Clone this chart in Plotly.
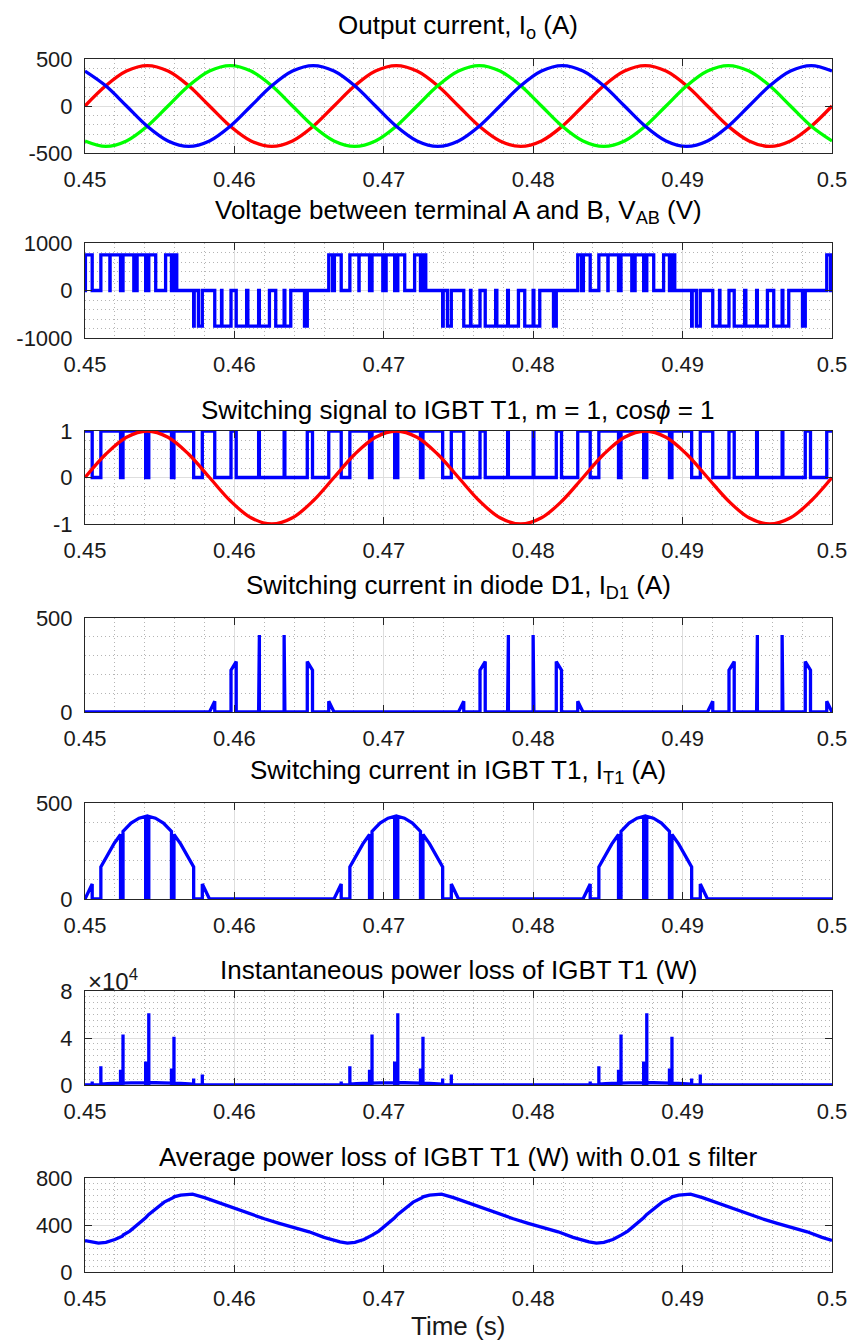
import plotly.graph_objects as go

# ------------------------------------------------------------------ data
t_sine = [0.45, 0.451389, 0.452778, 0.454167, 0.455556, 0.456944, 0.458333, 0.459722, 0.461111, 0.4625, 0.463889, 0.465278,
          0.466667, 0.468056, 0.469444, 0.470833, 0.472222, 0.473611, 0.475, 0.476389, 0.477778, 0.479167, 0.480556, 0.481944,
          0.483333, 0.484722, 0.486111, 0.4875, 0.488889, 0.490278, 0.491667, 0.493056, 0.494444, 0.495833, 0.497222, 0.498611, 0.5]
ia = [0, 215, 372, 430, 372, 215, 0, -215, -372, -430, -372, -215,
      0, 215, 372, 430, 372, 215, 0, -215, -372, -430, -372, -215,
      0, 215, 372, 430, 372, 215, 0, -215, -372, -430, -372, -215, 0]
ib = [-372, -430, -372, -215, 0, 215, 372, 430, 372, 215, 0, -215,
      -372, -430, -372, -215, 0, 215, 372, 430, 372, 215, 0, -215,
      -372, -430, -372, -215, 0, 215, 372, 430, 372, 215, 0, -215, -372]
ic = [372, 215, 0, -215, -372, -430, -372, -215, 0, 215, 372, 430,
      372, 215, 0, -215, -372, -430, -372, -215, 0, 215, 372, 430,
      372, 215, 0, -215, -372, -430, -372, -215, 0, 215, 372, 430, 372]
ref = [0, 0.5, 0.866, 1, 0.866, 0.5, 0, -0.5, -0.866, -1, -0.866, -0.5,
       0, 0.5, 0.866, 1, 0.866, 0.5, 0, -0.5, -0.866, -1, -0.866, -0.5,
       0, 0.5, 0.866, 1, 0.866, 0.5, 0, -0.5, -0.866, -1, -0.866, -0.5, 0]

gate_t = [0.45,
          0.450482, 0.451061, 0.452378, 0.452545, 0.45406, 0.45427, 0.455788, 0.455955, 0.457273, 0.457852,
          0.458685, 0.459773, 0.460122, 0.461621, 0.461672, 0.463328, 0.463379, 0.464878, 0.465228, 0.466315,
          0.467149, 0.467728, 0.469045, 0.469212, 0.470727, 0.470937, 0.472455, 0.472622, 0.47394, 0.474519,
          0.475352, 0.47644, 0.476789, 0.478288, 0.478339, 0.479995, 0.480046, 0.481545, 0.481895, 0.482982,
          0.483815, 0.484394, 0.485711, 0.485878, 0.487393, 0.487603, 0.489121, 0.489288, 0.490606, 0.491185,
          0.492018, 0.493106, 0.493455, 0.494954, 0.495005, 0.496661, 0.496712, 0.498211, 0.498561, 0.499648,
          0.5]
gate_v = [1,
          0, 1, 0, 1, 0, 1, 0, 1, 0, 1,
          0, 1, 0, 1, 0, 1, 0, 1, 0, 1,
          0, 1, 0, 1, 0, 1, 0, 1, 0, 1,
          0, 1, 0, 1, 0, 1, 0, 1, 0, 1,
          0, 1, 0, 1, 0, 1, 0, 1, 0, 1,
          0, 1, 0, 1, 0, 1, 0, 1, 0, 1,
          1]

vab_t = [0.45,
         0.450028, 0.450482, 0.451061, 0.451666, 0.451681, 0.452378, 0.452545, 0.453267, 0.453488, 0.45406,
         0.45427, 0.454733, 0.455395, 0.455788, 0.455955, 0.456142, 0.457273, 0.45731, 0.457593, 0.457852,
         0.458685, 0.459139, 0.459167, 0.459773, 0.460122, 0.460819, 0.4609, 0.461621, 0.461672, 0.462345,
         0.462767, 0.463328, 0.463379, 0.463772, 0.464692, 0.464878, 0.466315, 0.466573,
         0.466694, 0.467149, 0.467728, 0.468333, 0.468348, 0.469045, 0.469212, 0.469934, 0.470155, 0.470727,
         0.470937, 0.4714, 0.472062, 0.472455, 0.472622, 0.472809, 0.47394, 0.473977, 0.47426, 0.474519,
         0.475352, 0.475806, 0.475834, 0.47644, 0.476789, 0.477486, 0.477567, 0.478288, 0.478339, 0.479012,
         0.479434, 0.479995, 0.480046, 0.480439, 0.481359, 0.481545, 0.482982, 0.48324,
         0.483361, 0.483815, 0.484394, 0.484999, 0.485014, 0.485711, 0.485878, 0.4866, 0.486821, 0.487393,
         0.487603, 0.488066, 0.488728, 0.489121, 0.489288, 0.489475, 0.490606, 0.490643, 0.490926, 0.491185,
         0.492018, 0.492472, 0.4925, 0.493106, 0.493455, 0.494152, 0.494233, 0.494954, 0.495005, 0.495678,
         0.4961, 0.496661, 0.496712, 0.497105, 0.498025, 0.498211, 0.499648, 0.499906,
         0.5]
vab_v = [0,
         750, 0, 750, 0, 750, 0, 750, 0, 750, 0,
         750, 0, 750, 0, 750, 0, -750, 0, -750, 0,
         -750, 0, -750, 0, -750, 0, -750, 0, -750, 0,
         -750, 0, -750, 0, -750, 0, 750, 0,
         750, 0, 750, 0, 750, 0, 750, 0, 750, 0,
         750, 0, 750, 0, 750, 0, -750, 0, -750, 0,
         -750, 0, -750, 0, -750, 0, -750, 0, -750, 0,
         -750, 0, -750, 0, -750, 0, 750, 0,
         750, 0, 750, 0, 750, 0, 750, 0, 750, 0,
         750, 0, 750, 0, 750, 0, -750, 0, -750, 0,
         -750, 0, -750, 0, -750, 0, -750, 0, -750, 0,
         -750, 0, -750, 0, -750, 0, 750, 0,
         0]

id1_t = [0.45,
         0.458333, 0.458685, 0.458685, 0.459773, 0.459773, 0.460122, 0.460122, 0.461621, 0.461621, 0.461672, 0.461672,
         0.463328, 0.463328, 0.463379, 0.463379, 0.464878, 0.464878, 0.465228, 0.465228, 0.466315, 0.466315, 0.466667,
         0.475, 0.475352, 0.475352, 0.47644, 0.47644, 0.476789, 0.476789, 0.478288, 0.478288, 0.478339, 0.478339,
         0.479995, 0.479995, 0.480046, 0.480046, 0.481545, 0.481545, 0.481895, 0.481895, 0.482982, 0.482982, 0.483333,
         0.491666, 0.492018, 0.492018, 0.493106, 0.493106, 0.493455, 0.493455, 0.494954, 0.494954, 0.495005, 0.495005,
         0.496661, 0.496661, 0.496712, 0.496712, 0.498211, 0.498211, 0.498561, 0.498561, 0.499648, 0.499648, 0.5]
id1_v = [0,
         0, 57, 0, 0, 222, 268, 0, 0, 407, 409, 0,
         0, 409, 407, 0, 0, 268, 222, 0, 0, 57, 0,
         0, 57, 0, 0, 222, 268, 0, 0, 407, 409, 0,
         0, 409, 407, 0, 0, 268, 222, 0, 0, 57, 0,
         0, 57, 0, 0, 222, 268, 0, 0, 407, 409, 0,
         0, 409, 407, 0, 0, 268, 222, 0, 0, 57, 0]

it1_t = [0.45, 0.450482, 0.450482, 0.451061, 0.451061, 0.4515, 0.451933, 0.452378, 0.452378, 0.452545,
         0.452545, 0.453083, 0.453617, 0.45406, 0.45406, 0.45427, 0.45427, 0.454717, 0.45525, 0.455788,
         0.455788, 0.455955, 0.455955, 0.4564, 0.456833, 0.457273, 0.457273, 0.457852, 0.457852, 0.458333,
         0.466667, 0.467149, 0.467149, 0.467728, 0.467728, 0.468167, 0.4686, 0.469045, 0.469045, 0.469212,
         0.469212, 0.46975, 0.470284, 0.470727, 0.470727, 0.470937, 0.470937, 0.471384, 0.471917, 0.472455,
         0.472455, 0.472622, 0.472622, 0.473067, 0.4735, 0.47394, 0.47394, 0.474519, 0.474519, 0.475,
         0.483333, 0.483815, 0.483815, 0.484394, 0.484394, 0.484833, 0.485266, 0.485711, 0.485711, 0.485878,
         0.485878, 0.486416, 0.48695, 0.487393, 0.487393, 0.487603, 0.487603, 0.48805, 0.488583, 0.489121,
         0.489121, 0.489288, 0.489288, 0.489733, 0.490166, 0.490606, 0.490606, 0.491185, 0.491185, 0.491666,
         0.5]
it1_v = [0, 78, 0, 0, 167, 230, 287, 336, 0, 0, 352, 395, 421, 430, 0, 0, 430, 421, 395, 352,
         0, 0, 336, 287, 230, 167, 0, 0, 78, 0,
         0, 78, 0, 0, 167, 230, 287, 336, 0, 0, 352, 395, 421, 430, 0, 0, 430, 421, 395, 352,
         0, 0, 336, 287, 230, 167, 0, 0, 78, 0,
         0, 78, 0, 0, 167, 230, 287, 336, 0, 0, 352, 395, 421, 430, 0, 0, 430, 421, 395, 352,
         0, 0, 336, 287, 230, 167, 0, 0, 78, 0,
         0]

ploss_t = [0.45, 0.450482, 0.450482, 0.450482, 0.451061, 0.451061, 0.451061, 0.4515, 0.451933, 0.452378,
           0.452378, 0.452378, 0.452545, 0.452545, 0.452545, 0.453083, 0.453617, 0.45406, 0.45406, 0.45406,
           0.45427, 0.45427, 0.45427, 0.454717, 0.45525, 0.455788, 0.455788, 0.455788, 0.455955, 0.455955,
           0.455955, 0.4564, 0.456833, 0.457273, 0.457273, 0.457273, 0.457852, 0.457852, 0.457852, 0.458333,
           0.466667, 0.467149, 0.467149, 0.467149, 0.467728, 0.467728, 0.467728, 0.468167, 0.4686, 0.469045,
           0.469045, 0.469045, 0.469212, 0.469212, 0.469212, 0.46975, 0.470284, 0.470727, 0.470727, 0.470727,
           0.470937, 0.470937, 0.470937, 0.471384, 0.471917, 0.472455, 0.472455, 0.472455, 0.472622, 0.472622,
           0.472622, 0.473067, 0.4735, 0.47394, 0.47394, 0.47394, 0.474519, 0.474519, 0.474519, 0.475,
           0.483333, 0.483815, 0.483815, 0.483815, 0.484394, 0.484394, 0.484394, 0.484833, 0.485266, 0.485711,
           0.485711, 0.485711, 0.485878, 0.485878, 0.485878, 0.486416, 0.48695, 0.487393, 0.487393, 0.487393,
           0.487603, 0.487603, 0.487603, 0.48805, 0.488583, 0.489121, 0.489121, 0.489121, 0.489288, 0.489288,
           0.489288, 0.489733, 0.490166, 0.490606, 0.490606, 0.490606, 0.491185, 0.491185, 0.491185, 0.491666,
           0.5]
ploss_v = [0, 350, 3000, 0, 0, 16000, 750, 1050, 1300, 1550,
           13000, 0, 0, 43000, 1600, 1800, 1900, 1950, 20000, 0,
           0, 61000, 1950, 1900, 1800, 1600, 14000, 0, 0, 41000,
           1550, 1300, 1050, 750, 5500, 0, 0, 9000, 350, 0,
           0, 350, 3000, 0, 0, 16000, 750, 1050, 1300, 1550,
           13000, 0, 0, 43000, 1600, 1800, 1900, 1950, 20000, 0,
           0, 61000, 1950, 1900, 1800, 1600, 14000, 0, 0, 41000,
           1550, 1300, 1050, 750, 5500, 0, 0, 9000, 350, 0,
           0, 350, 3000, 0, 0, 16000, 750, 1050, 1300, 1550,
           13000, 0, 0, 43000, 1600, 1800, 1900, 1950, 20000, 0,
           0, 61000, 1950, 1900, 1800, 1600, 14000, 0, 0, 41000,
           1550, 1300, 1050, 750, 5500, 0, 0, 9000, 350, 0,
           0]

pavg_t = [0.45, 0.4504, 0.4509, 0.4514, 0.452, 0.4525, 0.45255, 0.453, 0.4535, 0.454, 0.45406, 0.45427, 0.4548, 0.4553,
          0.4559, 0.45596, 0.4564, 0.4568, 0.4572, 0.458, 0.459, 0.46, 0.461, 0.462, 0.463, 0.464, 0.465, 0.466,
          0.466667, 0.467067, 0.467567, 0.468067, 0.468667, 0.469167, 0.469217, 0.469667, 0.470167, 0.470667, 0.470727,
          0.470937, 0.471467, 0.471967, 0.472567, 0.472627, 0.473067, 0.473467, 0.473867, 0.474667, 0.475667, 0.476667,
          0.477667, 0.478667, 0.479667, 0.480667, 0.481667, 0.482667,
          0.483333, 0.483733, 0.484233, 0.484733, 0.485333, 0.485833, 0.485883, 0.486333, 0.486833, 0.487333, 0.487393,
          0.487603, 0.488133, 0.488633, 0.489233, 0.489293, 0.489733, 0.490133, 0.490533, 0.491333, 0.492333, 0.493333,
          0.494333, 0.495333, 0.496333, 0.497333, 0.498333, 0.499333,
          0.5]
pavg_v = [268, 256, 246, 252, 276, 305, 314, 348, 398, 455, 462, 490, 545, 595,
          632, 640, 655, 662, 662, 633, 588, 538, 494, 453, 414, 378, 342, 295,
          268, 256, 246, 252, 276, 305, 314, 348, 398, 455, 462,
          490, 545, 595, 632, 640, 655, 662, 662, 633, 588, 538,
          494, 453, 414, 378, 342, 295,
          268, 256, 246, 252, 276, 305, 314, 348, 398, 455, 462,
          490, 545, 595, 632, 640, 655, 662, 662, 633, 588, 538,
          494, 453, 414, 378, 342, 295,
          268]

x_tickvals = [0.45, 0.46, 0.47, 0.48, 0.49, 0.5]
x_ticktext = ["0.45", "0.46", "0.47", "0.48", "0.49", "0.5"]

titles = ["Output current, I<sub>o</sub> (A)",
          "Voltage between terminal A and B, V<sub>AB</sub> (V)",
          "Switching signal to IGBT T1, m = 1, cos<i>ϕ</i> = 1",
          "Switching current in diode D1, I<sub>D1</sub> (A)",
          "Switching current in IGBT T1, I<sub>T1</sub> (A)",
          "Instantaneous power loss of IGBT T1 (W)",
          "Average power loss of IGBT T1 (W) with 0.01 s filter"]
y_ranges = [[-500, 500], [-1000, 1000], [-1, 1], [0, 500], [0, 500], [0, 80000], [0, 800]]
y_tickvals = [[-500, 0, 500], [-1000, 0, 1000], [-1, 0, 1], [0, 500], [0, 500], [0, 40000, 80000], [0, 400, 800]]
y_ticktext = [["-500", "0", "500"], ["-1000", "0", "1000"], ["-1", "0", "1"], ["0", "500"], ["0", "500"],
              ["0", "4", "8"], ["0", "400", "800"]]
y_minor = [100, 200, 0.2, 100, 100, 5000, 50]

# ------------------------------------------------------------------ layout geometry (pixels)
W, H = 849, 1344
X0, X1 = 85, 832
tops = [59, 243, 431, 618, 803, 991, 1178]
bottoms = [153, 338, 524, 712, 899, 1085, 1272]
title_y = [27, 211, 410, 586, 771, 970, 1157]

FONT = "Liberation Sans, Arial, Helvetica, sans-serif"
AX = "#262626"
BLUE, RED, GREEN = "#0000ff", "#ff0000", "#00ff00"
LW = 3.3

fig = go.Figure()

def add(i, x, y, color, shape="linear"):
    fig.add_trace(go.Scatter(x=x, y=y, mode="lines", line=dict(color=color, width=LW, shape=shape),
                             xaxis="x" if i == 1 else f"x{i}", yaxis="y" if i == 1 else f"y{i}",
                             showlegend=False, hoverinfo="skip"))

add(1, t_sine, ia, RED, "spline")
add(1, t_sine, ib, GREEN, "spline")
add(1, t_sine, ic, BLUE, "spline")
add(2, vab_t, vab_v, BLUE, "hv")
add(3, gate_t, gate_v, BLUE, "hv")
add(3, t_sine, ref, RED, "spline")
add(4, id1_t, id1_v, BLUE)
add(5, it1_t, it1_v, BLUE)
add(6, ploss_t, ploss_v, BLUE)
add(7, pavg_t, pavg_v, BLUE)

layout = dict(width=W, height=H, margin=dict(l=0, r=0, t=0, b=0, autoexpand=False),
              paper_bgcolor="white", plot_bgcolor="white",
              font=dict(family=FONT, color="#000000"), showlegend=False)

annotations = []
for k in range(7):
    i = k + 1
    xs = "xaxis" if i == 1 else f"xaxis{i}"
    ys = "yaxis" if i == 1 else f"yaxis{i}"
    layout[xs] = dict(domain=[X0 / W, X1 / W], anchor="y" if i == 1 else f"y{i}", automargin=False,
                      range=[0.45, 0.5], tickvals=x_tickvals, ticktext=x_ticktext,
                      showline=True, linecolor=AX, linewidth=1, mirror="ticks",
                      ticks="inside", ticklen=7, tickcolor=AX, tickwidth=1,
                      showgrid=True, gridcolor="#dedede", gridwidth=1, zeroline=False,
                      tickfont=dict(size=22, color="#1a1a1a", family=FONT),
                      ticklabelstandoff=7,
                      minor=dict(dtick=0.002, tick0=0.45, showgrid=True, gridcolor="#b4b4b4",
                                 griddash="1px,3px", gridwidth=1, ticks=""))
    layout[ys] = dict(domain=[1 - bottoms[k] / H, 1 - tops[k] / H], anchor="x" if i == 1 else f"x{i}",
                      automargin=False,
                      range=y_ranges[k], tickvals=y_tickvals[k], ticktext=y_ticktext[k],
                      showline=True, linecolor=AX, linewidth=1, mirror="ticks",
                      ticks="inside", ticklen=7, tickcolor=AX, tickwidth=1,
                      showgrid=True, gridcolor="#dedede", gridwidth=1, zeroline=False,
                      tickfont=dict(size=22, color="#1a1a1a", family=FONT),
                      ticklabelstandoff=7,
                      minor=dict(dtick=y_minor[k], tick0=0, showgrid=True, gridcolor="#b4b4b4",
                                 griddash="1px,3px", gridwidth=1, ticks=""))
    annotations.append(dict(text=titles[k], x=(X0 + X1) / 2 / W, y=1 - title_y[k] / H,
                            xref="paper", yref="paper", xanchor="center", yanchor="middle",
                            showarrow=False, font=dict(size=26, color="#000000", family=FONT)))

annotations.append(dict(text="×10<sup>4</sup>", x=86 / W, y=1 - 980 / H, xref="paper", yref="paper",
                        xanchor="left", yanchor="middle", showarrow=False,
                        font=dict(size=24, color="#1a1a1a", family=FONT)))
annotations.append(dict(text="Time (s)", x=(X0 + X1) / 2 / W, y=1 - 1326 / H, xref="paper", yref="paper",
                        xanchor="center", yanchor="middle", showarrow=False,
                        font=dict(size=26, color="#1a1a1a", family=FONT)))
layout["annotations"] = annotations

fig.update_layout(**layout)
fig.write_html("out.html")
